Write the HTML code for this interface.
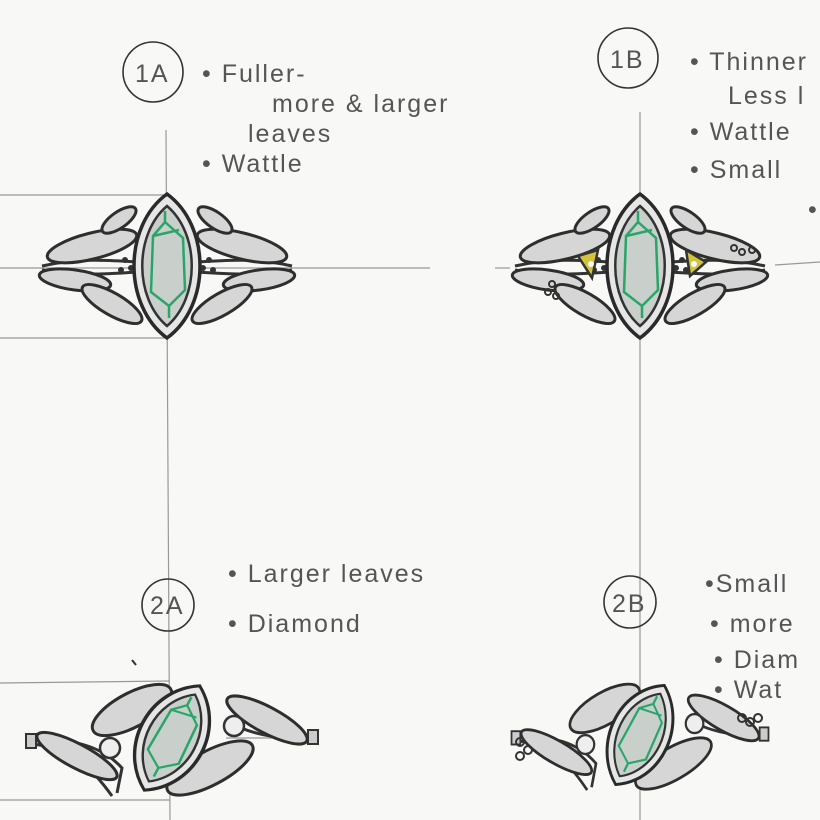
<!DOCTYPE html>
<html><head><meta charset="utf-8"><style>
html,body{margin:0;padding:0;background:#f8f8f7;}
svg{display:block}
text{font-family:"Liberation Sans",sans-serif;fill:#555;font-size:25px;letter-spacing:2px}
</style></head><body>
<svg width="820" height="820" viewBox="0 0 820 820" xmlns="http://www.w3.org/2000/svg">
<defs>
<g id="stone">
  <path d="M0,-72 C44,-40 44,40 0,72 C-44,40 -44,-40 0,-72Z" fill="#e6e6e6" stroke="#2a2a2a" stroke-width="3.5"/>
  <path d="M0,-60 C33,-32 33,32 0,60 C-33,32 -33,-32 0,-60Z" fill="#c9cfcb" stroke="#333" stroke-width="2.5"/>
  <path d="M-2,-44 L16,-28 L18,24 L2,40 L-16,26 L-14,-30Z M-2,-44 L-2,-55 M2,40 L2,52 M-14,-30 L12,-36" fill="none" stroke="#2aa56a" stroke-width="2.5"/>
</g>
<g id="ring">
  <path d="M-125,0 C-90,-8 -60,-6 -30,-4 M-125,4 C-90,10 -60,8 -30,6 M125,0 C90,-8 60,-6 30,-4 M125,4 C90,10 60,8 30,6" stroke="#333" stroke-width="3" fill="none"/>
  <g fill="#d6d6d6" stroke="#2e2e2e" stroke-width="3">
    <ellipse cx="-75" cy="-20" rx="46" ry="13" transform="rotate(-14 -75 -20)"/>
    <ellipse cx="-92" cy="14" rx="36" ry="10" transform="rotate(8 -92 14)"/>
    <ellipse cx="-55" cy="38" rx="34" ry="11" transform="rotate(30 -55 38)"/>
    <ellipse cx="-48" cy="-46" rx="20" ry="8" transform="rotate(-35 -48 -46)"/>
    <ellipse cx="75" cy="-20" rx="46" ry="13" transform="rotate(14 75 -20)"/>
    <ellipse cx="92" cy="14" rx="36" ry="10" transform="rotate(-8 92 14)"/>
    <ellipse cx="55" cy="38" rx="34" ry="11" transform="rotate(-30 55 38)"/>
    <ellipse cx="48" cy="-46" rx="20" ry="8" transform="rotate(35 48 -46)"/>
  </g>
  <g fill="#333">
    <circle cx="-42" cy="-6" r="3"/><circle cx="-36" cy="2" r="3"/><circle cx="-46" cy="4" r="3"/>
    <circle cx="42" cy="-6" r="3"/><circle cx="36" cy="2" r="3"/><circle cx="46" cy="4" r="3"/>
  </g>
  <use href="#stone"/>
</g>
<g id="ring2">
  <path d="M-140,2 C-100,0 -70,8 -50,30 L-55,55 M-140,6 C-100,10 -80,30 -60,58 M140,-2 C100,-4 70,-10 55,-35 M140,2 C100,0 75,-5 60,-15" stroke="#333" stroke-width="3" fill="none"/>
  <rect x="-146" y="-4" width="10" height="14" fill="#ccc" stroke="#333" stroke-width="2"/>
  <rect x="136" y="-8" width="10" height="14" fill="#ccc" stroke="#333" stroke-width="2"/>
  <g fill="#d6d6d6" stroke="#2e2e2e" stroke-width="3">
    <ellipse cx="-40" cy="-28" rx="44" ry="17" transform="rotate(-28 -40 -28)"/>
    <ellipse cx="-95" cy="18" rx="45" ry="12" transform="rotate(28 -95 18)"/>
    <ellipse cx="95" cy="-18" rx="45" ry="13" transform="rotate(28 95 -18)"/>
    <ellipse cx="38" cy="30" rx="48" ry="17" transform="rotate(-28 38 30)"/>
  </g>
  <g fill="#eee" stroke="#333" stroke-width="2.5">
    <circle cx="-62" cy="10" r="10"/><circle cx="62" cy="-12" r="10"/>
  </g>
  <use href="#stone" transform="rotate(28) scale(1.0,0.82)"/>
</g>
</defs>

<g stroke="#999" stroke-width="1.2" fill="none">
  <line x1="166" y1="130" x2="170" y2="820"/>
  <line x1="0" y1="195" x2="165" y2="195"/>
  <line x1="0" y1="268" x2="430" y2="268"/>
  <line x1="0" y1="338" x2="165" y2="338"/>
  <line x1="640" y1="112" x2="640" y2="820"/>
  <line x1="495" y1="268" x2="510" y2="268"/>
  <line x1="775" y1="265" x2="820" y2="262"/>
  <line x1="0" y1="683" x2="170" y2="681"/>
  <line x1="0" y1="800" x2="170" y2="800"/>
  <line x1="226" y1="738" x2="290" y2="738"/>
</g>

<g fill="none" stroke="#333" stroke-width="1.6">
  <circle cx="153" cy="72" r="30"/>
  <circle cx="628" cy="58" r="30"/>
  <circle cx="168" cy="605" r="26"/>
  <circle cx="630" cy="602" r="26"/>
</g>
<text x="135" y="82" font-size="26">1A</text>
<text x="610" y="68" font-size="26">1B</text>
<text x="150" y="614" font-size="24">2A</text>
<text x="612" y="612" font-size="24">2B</text>

<text x="202" y="82">• Fuller-</text>
<text x="272" y="112">more &amp; larger</text>
<text x="248" y="142">leaves</text>
<text x="202" y="172">• Wattle</text>

<text x="690" y="70">• Thinner</text>
<text x="728" y="104">Less l</text>
<text x="690" y="140">• Wattle</text>
<text x="690" y="178">• Small</text>
<text x="808" y="218">•</text>

<text x="228" y="582">• Larger leaves</text>
<text x="228" y="632">• Diamond</text>

<text x="705" y="592">•Small</text>
<text x="710" y="632">• more</text>
<text x="714" y="668">• Diam</text>
<text x="714" y="698">• Wat</text>

<use href="#ring" transform="translate(167,266)"/>
<use href="#ring" transform="translate(640,266)"/>
<g>
  <path d="M578,256 L598,250 L592,278Z M686,250 L706,262 L690,276Z" fill="#d4c23a" stroke="#333" stroke-width="2.5"/>
  <circle cx="591" cy="264" r="3" fill="#fff"/><circle cx="694" cy="264" r="3" fill="#fff"/>
  <g fill="none" stroke="#333" stroke-width="2"><circle cx="552" cy="284" r="3"/><circle cx="548" cy="292" r="3"/><circle cx="556" cy="296" r="3"/><circle cx="734" cy="248" r="3"/><circle cx="742" cy="252" r="3"/><circle cx="752" cy="250" r="3"/></g>
</g>
<use href="#ring2" transform="translate(172,738)"/>
<use href="#ring2" transform="translate(640,735) scale(0.88,0.95)"/>
<g fill="none" stroke="#333" stroke-width="2">
  <circle cx="520" cy="742" r="4"/><circle cx="528" cy="750" r="4"/><circle cx="520" cy="756" r="4"/>
  <circle cx="742" cy="718" r="4"/><circle cx="750" cy="722" r="4"/><circle cx="758" cy="718" r="4"/>
</g>
<path d="M132,660 l4,5" stroke="#333" stroke-width="2"/>
</svg>
</body></html>
